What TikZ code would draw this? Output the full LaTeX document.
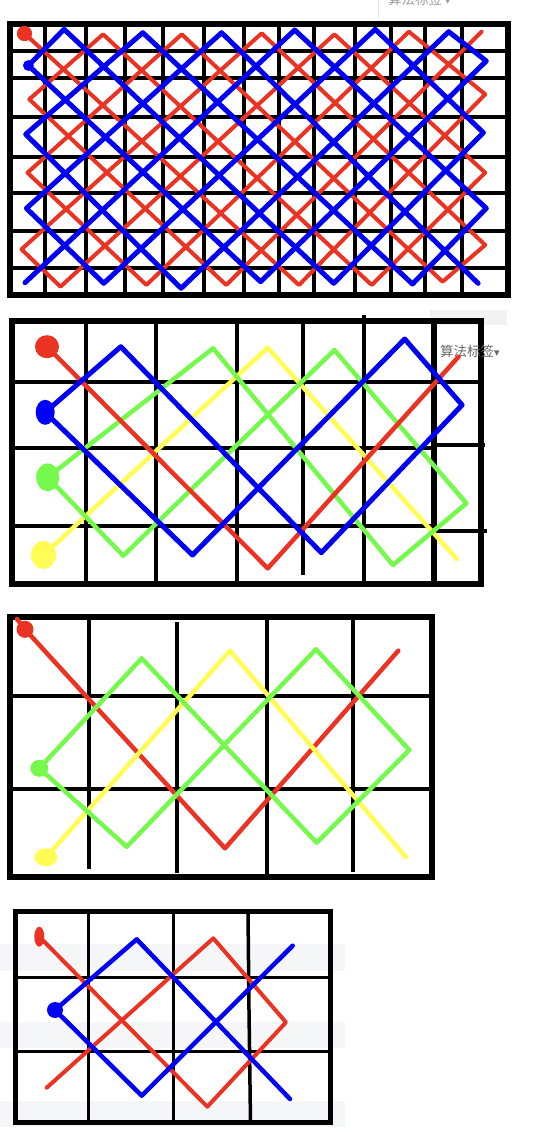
\documentclass[tikz,border=0pt]{standalone}
\usepackage{fontspec}
\usepackage{tikz}
\usetikzlibrary{shapes.geometric}
\newfontfamily\cjkfont{Noto Sans CJK SC}
\newfontfamily\symfont{DejaVu Sans}
\definecolor{PaintRed}{RGB}{234,51,35}
\definecolor{PaintBlue}{RGB}{0,0,245}
\definecolor{PaintGreen}{RGB}{117,249,77}
\definecolor{PaintYellow}{RGB}{255,253,85}
\definecolor{PageGray}{RGB}{245,246,248}

\begin{document}
\begin{tikzpicture}[
        x=1pt, y=-1pt,
        frame/.style={
            draw=black,
            line width=6pt
        },
        gridline/.style={
            draw=black,
            line width=4pt
        },
        stroke/.style={
            line width=4.5pt,
            line cap=round,
            line join=round
        },
        redline/.style={stroke, draw=PaintRed},
        blueline/.style={stroke, draw=PaintBlue, line width=5pt},
        greenline/.style={stroke, draw=PaintGreen},
        yellowline/.style={stroke, draw=PaintYellow},
        dot/.style={
            ellipse,
            draw=none,
            inner sep=0pt
        },
        tag/.style={
            font=\cjkfont\fontsize{13.5}{13.5}\selectfont,
            text=black!60,
            anchor=west,
            inner sep=0pt
        }
    ]

    \useasboundingbox[fill=white] (0,0) rectangle (558,1140);

    % Page bits behind the drawings
    \draw[black!10, line width=1pt] (378,0) -- (378,18);
    \node[tag, text=black!40] (tagtop) at (388,-1) {算法标签\,{\symfont ▾}};
    \fill[black!5] (430,310) rectangle (507,325);
    \fill[PageGray] (0,944) rectangle (345,971);
    \fill[PageGray] (0,1022) rectangle (345,1048);
    \fill[PageGray] (0,1101) rectangle (345,1127);

    % Panel 1: red and blue
    \foreach \gx in {45,86,125,163,204,244,279,314,355,391,425,462}
        \draw[gridline] (\gx,24) -- (\gx,295);
    \foreach \gy in {51,78,117,157,193,231,268}
        \draw[gridline] (10,\gy) -- (508,\gy);
    \draw[frame] (10,24) rectangle (508,295);

    \node[dot, fill=PaintRed, minimum width=15pt, minimum height=15pt] (r1) at (24.5,33.5) {};
    \node[dot, fill=PaintBlue, minimum width=10.5pt, minimum height=10.5pt] (b1) at (28.4,65.5) {};

    \draw[redline, line width=4pt] (r1.center) -- (299,285) -- (485.2,94.3)
        -- (408.9,31.7) -- (146.4,285) -- (27.5,172.7) -- (181.8,34.3)
        -- (442.6,281.7) -- (485.2,245) -- (261.7,33.3) -- (21.5,249.3)
        -- (60.5,286.7) -- (334.4,34.3) -- (485.2,172.7) -- (371.7,285)
        -- (103.1,34.3) -- (29.3,99.3) -- (226.2,285) -- (481.6,31.7);
    \draw[blueline] (478.1,283.3) -- (221.6,32.7) -- (26.4,208.3)
        -- (103.8,283.3) -- (375.2,29.3) -- (483.4,132.7) -- (333.7,283.3)
        -- (64.1,29.3) -- (b1.center) -- (260.6,281.7) -- (486.3,61)
        -- (448.7,31.7) -- (181.1,288.3) -- (25.7,134.3) -- (142.8,32.7)
        -- (412.5,284) -- (486.3,208.3) -- (294.7,30) -- (25,282.7);
    \node[dot, fill=PaintRed, minimum width=15pt, minimum height=15pt] at (r1) {};
    \node[dot, fill=PaintBlue, minimum width=10.5pt, minimum height=10.5pt] at (b1) {};

    % Panel 2: four colours
    \foreach \gx in {86,156,237}
        \draw[gridline] (\gx,320) -- (\gx,584);
    \draw[gridline] (302.5,320) -- (302.5,575);
    \draw[gridline] (363.5,315) -- (363.5,584);
    \draw[gridline] (11.5,382.3) -- (481,382.3);
    \draw[gridline] (11.5,447.7) -- (433.5,447.7);
    \draw[gridline] (11.5,525.7) -- (433.5,525.7);
    \draw[gridline] (433.5,445) -- (485,445);
    \draw[gridline] (433.5,531) -- (487,531);
    \draw[frame] (11.5,320.5) rectangle (481,584);
    \draw[frame] (433.5,320.5) -- (433.5,584);
    \node[tag] (tagmid) at (440,351) {算法标签{\symfont\fontsize{11}{11}\selectfont ▾}};

    \node[dot, fill=PaintRed, minimum width=24pt, minimum height=23pt] (r2) at (47,346.7) {};
    \node[dot, fill=PaintBlue, minimum width=19pt, minimum height=25pt] (b2) at (45.2,412.3) {};
    \node[dot, fill=PaintGreen, minimum width=23pt, minimum height=28pt] (g2) at (47.7,477.3) {};
    \node[dot, fill=PaintYellow, minimum width=25pt, minimum height=28pt] (y2) at (43.5,555) {};

    \draw[yellowline] (y2.center) -- (267.7,347.7) -- (456.8,559);
    \draw[greenline] (g2.center) -- (213.1,348.3) -- (393,565) -- (466.4,503.3)
        -- (334.4,350) -- (123.3,555.7) -- cycle;
    \draw[redline] (r2.center) -- (267.7,568.3) -- (458.6,356.7);
    \draw[blueline] (b2.center) -- (120.8,346.7) -- (321.3,552.7) -- (462.1,405)
        -- (404.7,339) -- (192.5,555) -- cycle;

    % Panel 3: red, green, yellow
    \draw[gridline] (10,695.7) -- (432,695.7);
    \draw[gridline] (10,789) -- (432,789);
    \draw[gridline] (89.3,617) -- (89.3,869);
    \draw[gridline] (177.3,622) -- (177.3,873);
    \draw[gridline] (266.7,617) -- (266.7,875);
    \draw[gridline] (352.7,617) -- (352.7,872);
    \draw[frame] (10.3,617) rectangle (432,877);

    \node[dot, fill=PaintRed, minimum width=17pt, minimum height=17pt] (r3) at (25,629.3) {};
    \node[dot, fill=PaintGreen, minimum width=18pt, minimum height=17pt] (g3) at (39.3,768.3) {};
    \node[dot, fill=PaintYellow, minimum width=23pt, minimum height=18pt] (y3) at (46,857.3) {};

    \draw[redline] (17,619) -- (r3.center) -- (225,848.3) -- (398.3,650.7);
    \draw[yellowline] (y3.center) -- (230,650.7) -- (406,857.3);
    \draw[greenline] (g3.center) -- (141.7,658.3) -- (316.7,842.7) -- (409.3,750)
        -- (316,649.3) -- (126.7,846.7) -- cycle;

    % Panel 4: red and blue
    \draw[gridline, line width=3.5pt] (15.2,977.7) -- (330.2,977.7);
    \draw[gridline, line width=3.5pt] (15.2,1051.7) -- (330.2,1051.7);
    \draw[gridline, line width=3.5pt] (88.3,911.5) -- (88.3,1122.5);
    \draw[gridline, line width=3.5pt] (173.3,911.5) -- (173.3,1122.5);
    \draw[gridline, line width=3.5pt] (248,911.5) -- (249,1010) -- (250.5,1122.5);
    \draw[frame, line width=5pt] (15.2,911.5) rectangle (330.2,1122.5);

    \node[dot, fill=PaintRed, minimum width=10pt, minimum height=20pt] (r4) at (39.3,936.7) {};
    \node[dot, fill=PaintBlue, minimum width=16pt, minimum height=16pt] (b4) at (55,1010) {};

    \draw[redline, line width=4pt] (r4.center) -- (207.3,1106.7) -- (286,1022.3)
        -- (213.3,938.3) -- (46.7,1087.7);
    \draw[blueline, line width=4.5pt] (292.7,945.7) -- (141.7,1095.7) -- (b4.center)
        -- (136.7,939.3) -- (290,1099);

    \end{tikzpicture}
\end{document}
